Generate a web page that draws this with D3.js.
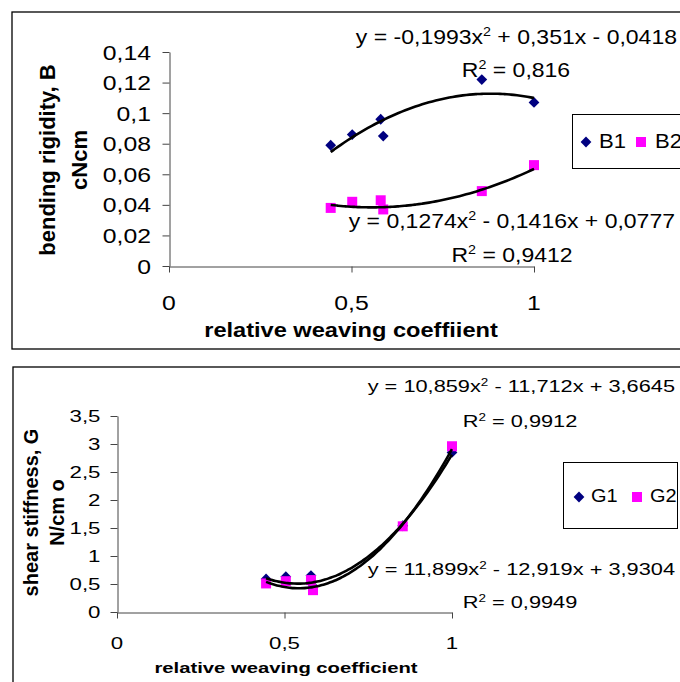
<!DOCTYPE html>
<html><head><meta charset="utf-8">
<script src="https://cdn.jsdelivr.net/npm/d3@7"></script>
<style>body{margin:0;background:#fff}svg{display:block}text{font-family:"Liberation Sans",Arial,sans-serif;fill:#000}</style>
</head><body>
<svg id="c" width="680" height="682"></svg>
<script>
// ---- data ----
const xB = [0.443, 0.502, 0.580, 0.587, 0.857, 1.0];
const B1 = [0.079, 0.086, 0.096, 0.085, 0.122, 0.107];
const B2 = [0.038, 0.042, 0.043, 0.037, 0.049, 0.066];
const xG = [0.445, 0.504, 0.579, 0.585, 0.853, 1.0];
const G1 = [0.59, 0.63, 0.65, 0.46, 1.54, 2.85];
const G2 = [0.51, 0.55, 0.57, 0.39, 1.53, 2.96];
// trendline coefficients shown in the chart (a x^2 + b x + c) and R^2
const fitB1 = [-0.1993, 0.351, -0.0418], r2B1 = 0.816;
const fitB2 = [0.1274, -0.1416, 0.0777], r2B2 = 0.9412;
const fitG1 = [10.859, -11.712, 3.6645], r2G1 = 0.9912;
const fitG2 = [11.899, -12.919, 3.9304], r2G2 = 0.9949;
const yTicksB = [0, 0.02, 0.04, 0.06, 0.08, 0.1, 0.12, 0.14];
const yTicksG = [0, 0.5, 1, 1.5, 2, 2.5, 3, 3.5];
const xTicks = [0, 0.5, 1];
const seriesB = ["B1", "B2"], seriesG = ["G1", "G2"];
const titlesB = {x: "relative weaving coeffiient", y: ["bending rigidity, B", "cNcm"]};
const titlesG = {x: "relative weaving coefficient", y: ["shear stiffness, G", "N/cm o"]};

const NAVY = "#000080", MAG = "#FF00FF";
const svg = d3.select("#c");
const fmt = v => String(v).replace(".", ",");

function txt(g, x, y, s, o) {
  const t = g.append("text")
    .attr("transform", `translate(${x},${y}) scale(${o.sx||1},1)` + (o.rot ? " rotate(-90)" : ""))
    .attr("font-size", o.size).attr("text-anchor", o.anchor || "start")
    .attr("font-weight", o.bold ? "bold" : "normal");
  if (s !== null) t.text(s);
  return t;
}
function eqText(g, x, y, co, o) {
  const t = txt(g, x, y, null, o);
  const [a, b, c] = co;
  t.append("tspan").text("y = " + (a < 0 ? "-" : "") + fmt(Math.abs(a)) + "x");
  t.append("tspan").attr("font-size", o.size * 0.62).attr("dy", -o.size * 0.38).text("2");
  t.append("tspan").attr("dy", o.size * 0.38)
    .text(" " + (b < 0 ? "-" : "+") + " " + fmt(Math.abs(b)) + "x " + (c < 0 ? "-" : "+") + " " + fmt(Math.abs(c)));
}
function r2Text(g, x, y, r, o) {
  const t = txt(g, x, y, null, Object.assign({anchor: "middle"}, o));
  t.append("tspan").text("R");
  t.append("tspan").attr("font-size", o.size * 0.62).attr("dy", -o.size * 0.38).text("2");
  t.append("tspan").attr("dy", o.size * 0.38).text(" = " + fmt(r));
}
const diamond = d3.symbol().type(d3.symbolSquare).size(58);
const square = d3.symbol().type(d3.symbolSquare).size(100);

function panel(cfg) {
  const g = svg.append("g");
  g.append("rect").attr("x", cfg.box[0]).attr("y", cfg.box[1]).attr("width", cfg.box[2]).attr("height", cfg.box[3])
    .attr("fill", "#fff").attr("stroke", "#000").attr("stroke-width", 1.3);
  const x = d3.scaleLinear().domain([0, 1]).range(cfg.xr);
  const y = d3.scaleLinear().domain(cfg.yd).range(cfg.yr);
  // axes
  g.append("g").attr("transform", `translate(0,${cfg.yr[0] + 0.5})`)
    .call(d3.axisBottom(x).tickValues(xTicks).tickSize(6).tickSizeOuter(0).tickFormat(""))
    .call(a => a.selectAll("path,line").attr("stroke", "#444"));
  g.append("g").attr("transform", `translate(${cfg.xr[0] + 0.5},0)`)
    .call(d3.axisLeft(y).tickValues(cfg.yTicks).tickSize(7).tickSizeOuter(0).tickFormat(""))
    .call(a => a.selectAll("path,line").attr("stroke", "#444"));
  // tick labels
  cfg.yTicks.forEach(v => txt(g, cfg.xr[0] - cfg.ylOff, y(v) + cfg.tick * 0.36, fmt(v), {size: cfg.tick, sx: cfg.sx, anchor: "end"}));
  xTicks.forEach(v => txt(g, x(v), cfg.xlBase, fmt(v), {size: cfg.tick, sx: cfg.sx, anchor: "middle"}));
  // titles
  txt(g, cfg.xt[0], cfg.xt[1], cfg.titles.x, {size: cfg.xtSize, sx: cfg.sx, anchor: "middle", bold: true});
  txt(g, cfg.yt[0], cfg.yt[2], cfg.titles.y[0], {size: cfg.ytSize, rot: true, anchor: "middle", bold: true});
  txt(g, cfg.yt[1], cfg.yt[2], cfg.titles.y[1], {size: cfg.ytSize, rot: true, anchor: "middle", bold: true});
  // markers
  cfg.xs.forEach((xv, i) => g.append("path").attr("d", diamond)
    .attr("transform", `translate(${x(xv)},${y(cfg.s1[i])}) rotate(45)`).attr("fill", NAVY));
  cfg.xs.forEach((xv, i) => g.append("path").attr("d", square)
    .attr("transform", `translate(${x(xv)},${y(cfg.s2[i])})`).attr("fill", MAG));
  // trendlines from displayed equations
  const ext = d3.extent(cfg.xs);
  const xsLine = d3.range(0, 61).map(k => ext[0] + (ext[1] - ext[0]) * k / 60);
  [cfg.f1, cfg.f2].forEach(f => {
    g.append("path").datum(xsLine)
      .attr("d", d3.line().x(d => x(d)).y(d => y(f[0] * d * d + f[1] * d + f[2])).curve(d3.curveBasis))
      .attr("fill", "none").attr("stroke", "#000").attr("stroke-width", 2.6);
  });
  // equations
  eqText(g, cfg.e1[0], cfg.e1[1], cfg.f1, {size: cfg.eq, sx: cfg.esx, anchor: "end"});
  r2Text(g, cfg.e1[2], cfg.e1[3], cfg.r1, {size: cfg.eq, sx: cfg.esx});
  eqText(g, cfg.e2[0], cfg.e2[1], cfg.f2, {size: cfg.eq, sx: cfg.esx, anchor: "end"});
  r2Text(g, cfg.e2[2], cfg.e2[3], cfg.r2, {size: cfg.eq, sx: cfg.esx});
  // legend
  const L = cfg.leg;
  g.append("rect").attr("x", L.box[0] + 0.5).attr("y", L.box[1] + 0.5).attr("width", L.box[2]).attr("height", L.box[3])
    .attr("fill", "#fff").attr("stroke", "#000").attr("stroke-width", 1);
  g.append("path").attr("d", diamond).attr("transform", `translate(${L.m1},${L.my}) rotate(45)`).attr("fill", NAVY);
  g.append("path").attr("d", square).attr("transform", `translate(${L.m2},${L.my})`).attr("fill", MAG);
  txt(g, L.t1, L.base, cfg.names[0], {size: L.size, sx: 1.05});
  txt(g, L.t2, L.base, cfg.names[1], {size: L.size, sx: 1.05});
}

panel({
  box: [12, 12, 700, 337], xr: [169, 534], yd: [0, 0.14], yr: [266, 52], yTicks: yTicksB,
  tick: 21, sx: 1.18, esx: 1.15, ylOff: 18, xlBase: 309.5,
  titles: titlesB, xt: [351, 337], xtSize: 20, yt: [55, 87, 160], ytSize: 22,
  xs: xB, s1: B1, s2: B2, f1: fitB1, f2: fitB2, r1: r2B1, r2: r2B2,
  eq: 20, e1: [677, 44, 516, 77], e2: [675, 228, 512, 262],
  names: seriesB,
  leg: {box: [572, 114, 150, 54], m1: 586, m2: 641, my: 142, t1: 599, t2: 655, base: 148, size: 21}
});
panel({
  box: [13, 367, 700, 340], xr: [117, 452], yd: [0, 3.5], yr: [612, 416], yTicks: yTicksG,
  tick: 16.5, sx: 1.35, esx: 1.32, ylOff: 16.5, xlBase: 649,
  titles: titlesG, xt: [286, 673], xtSize: 15, yt: [38, 64, 512.5], ytSize: 20,
  xs: xG, s1: G1, s2: G2, f1: fitG1, f2: fitG2, r1: r2G1, r2: r2G2,
  eq: 16.5, e1: [675, 392, 520, 427], e2: [675, 575, 520, 608],
  names: seriesG,
  leg: {box: [563, 462, 114, 66], m1: 579, m2: 637, my: 497, t1: 591, t2: 650, base: 502, size: 19}
});
</script>
</body></html>
